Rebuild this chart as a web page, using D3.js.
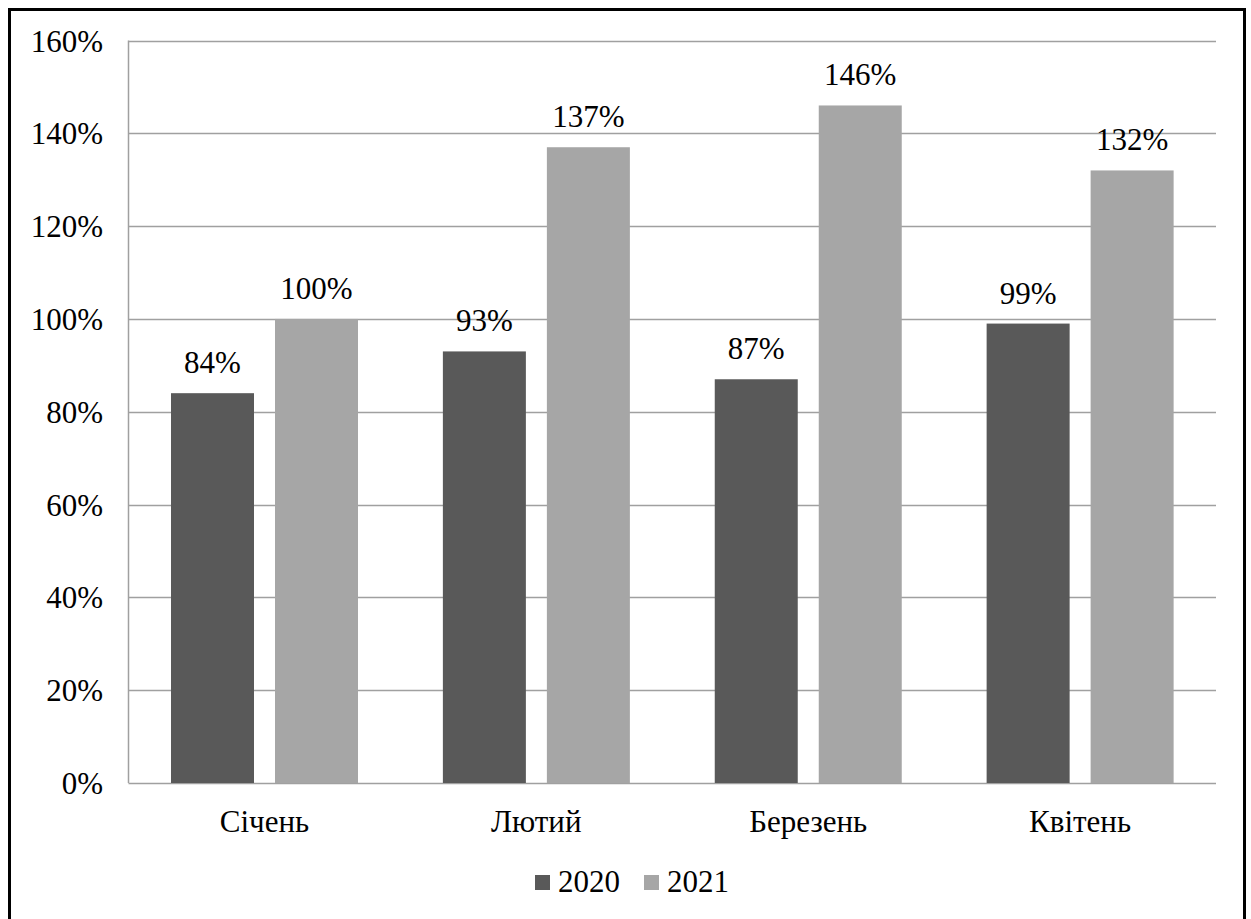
<!DOCTYPE html>
<html>
<head>
<meta charset="utf-8">
<script src="https://cdn.jsdelivr.net/npm/d3@7"></script>
<style>
  html, body { margin: 0; padding: 0; background: #fff; }
  svg { display: block; }
</style>
</head>
<body>
<svg id="chart" width="1251" height="919"></svg>
<script>
// Monthly values, percent
const months = ["Січень", "Лютий", "Березень", "Квітень"];
const years = ["2020", "2021"];
const values2020 = [84, 93, 87, 99];
const values2021 = [100, 137, 146, 132];
const yTicks = [0, 20, 40, 60, 80, 100, 120, 140, 160];
const colors = ["#595959", "#a6a6a6"];

const FONT = "'Liberation Serif', 'Times New Roman', serif";
const FONT_SIZE = 31;

const svg = d3.select("#chart").style("font-family", FONT);
const plot = { left: 128.5, right: 1216, top: 40.5, bottom: 783 };

// outer frame
svg.append("rect")
  .attr("x", 9.5).attr("y", 9.5)
  .attr("width", 1235).attr("height", 930)
  .attr("fill", "none").attr("stroke", "#000").attr("stroke-width", 3);

const x0 = d3.scaleBand().domain(months).range([plot.left, plot.right]);
const y = d3.scaleLinear().domain([0, 160]).range([plot.bottom, plot.top]);

// horizontal gridlines
svg.append("g").selectAll("line").data(yTicks).join("line")
  .attr("x1", plot.left).attr("x2", plot.right)
  .attr("y1", d => Math.round(y(d)) + 0.5).attr("y2", d => Math.round(y(d)) + 0.5)
  .attr("stroke", "#a0a0a0").attr("stroke-width", 1.5);

// vertical axis line
svg.append("line")
  .attr("x1", plot.left).attr("x2", plot.left)
  .attr("y1", plot.top).attr("y2", plot.bottom)
  .attr("stroke", "#a0a0a0").attr("stroke-width", 1.5);

// y tick labels
svg.append("g").selectAll("text").data(yTicks).join("text")
  .attr("x", 103).attr("y", d => y(d) + 11)
  .attr("text-anchor", "end")
  .attr("font-size", FONT_SIZE)
  .text(d => d + "%");

// grouped bars with value labels
const groupPad = 42.5, barW = 83, barGap = 21;
const series = [values2020, values2021];
series.forEach((vals, si) => {
  const g = svg.append("g");
  const bx = (m) => x0(m) + groupPad + si * (barW + barGap);
  g.selectAll("rect").data(months).join("rect")
    .attr("x", (m) => bx(m))
    .attr("y", (m, i) => y(vals[i]))
    .attr("width", barW)
    .attr("height", (m, i) => plot.bottom - y(vals[i]))
    .attr("fill", colors[si]);
  g.selectAll("text").data(months).join("text")
    .attr("x", (m) => bx(m) + barW / 2)
    .attr("y", (m, i) => y(vals[i]) - 20)
    .attr("text-anchor", "middle")
    .attr("font-size", FONT_SIZE)
    .text((m, i) => vals[i] + "%");
});

// category labels
svg.append("g").selectAll("text").data(months).join("text")
  .attr("x", m => x0(m) + x0.bandwidth() / 2)
  .attr("y", 832)
  .attr("text-anchor", "middle")
  .attr("font-size", FONT_SIZE)
  .text(m => m);

// legend
const legendX = [535, 644];
years.forEach((yr, i) => {
  svg.append("rect")
    .attr("x", legendX[i]).attr("y", 875)
    .attr("width", 15).attr("height", 15)
    .attr("fill", colors[i]);
  svg.append("text")
    .attr("x", legendX[i] + 23).attr("y", 892)
    .attr("font-size", FONT_SIZE)
    .text(yr);
});
</script>
</body>
</html>
